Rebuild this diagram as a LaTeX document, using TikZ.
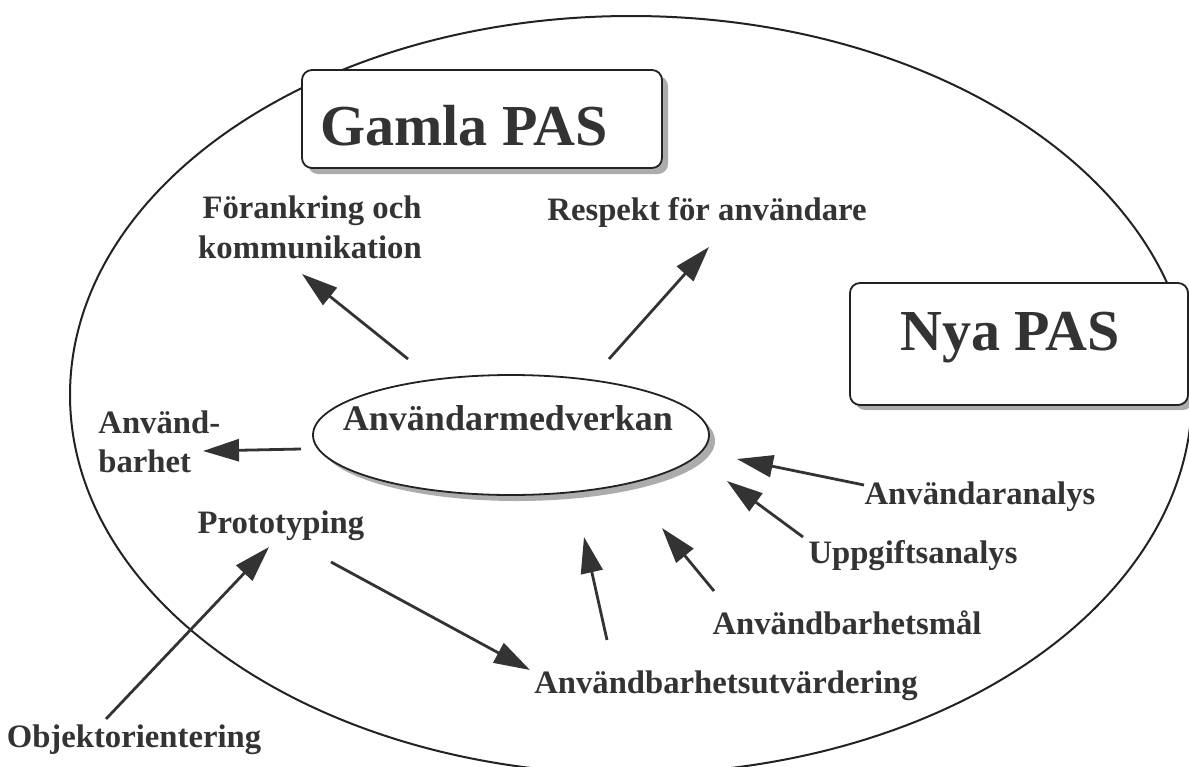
\documentclass[tikz,border=0pt]{standalone}
\usepackage{fontspec}
\setmainfont{Liberation Serif}
\usetikzlibrary{arrows.meta,shapes.geometric}
\definecolor{ink}{HTML}{333333}
\definecolor{edge}{HTML}{222222}
\begin{document}
\begin{tikzpicture}[x=0.5pt,y=-0.5pt,
  lbl/.style={font=\fontsize{16.35}{20}\selectfont\bfseries, text=ink, inner sep=0pt, anchor=base},
  lblw/.style={lbl, anchor=base west},
  title/.style={font=\fontsize{29}{34}\selectfont\bfseries, text=ink, inner sep=0pt, anchor=base},
  midtitle/.style={font=\fontsize{18}{22}\selectfont\bfseries, text=ink, inner sep=0pt, anchor=base},
  arr/.style={draw=ink, line width=1.4pt, -{Triangle[length=18pt,width=11pt]}},
  box/.style={draw=edge, line width=0.9pt, rounded corners=5pt, fill=white, inner sep=0pt},
  boxshadow/.style={fill=gray!65, rounded corners=5pt, inner sep=0pt, draw=none},
]
\useasboundingbox (0,0) rectangle (1189,766);

% outer ellipse
\draw[line width=1pt, edge] (631,395) ellipse [x radius=280.5pt, y radius=189.5pt];

% Gamla PAS box
\node[boxshadow, minimum width=180pt, minimum height=49pt] (gamlashadow) at (488,125) {};
\node[box, minimum width=180pt, minimum height=49pt] (gamlabox) at (482,119) {};
\node[title] (gamla) at (464,145) {Gamla PAS};

% Nya PAS box
\node[boxshadow, minimum width=169pt, minimum height=61pt] (nyashadow) at (1024,349) {};
\node[box, minimum width=169pt, minimum height=61pt] (nyabox) at (1019,344) {};
\node[title] (nya) at (1010,350) {Nya PAS};

% central ellipse
\node[ellipse, fill=gray!65, draw=none, minimum width=198pt, minimum height=60pt, inner sep=0pt] (medvshadow) at (517,441) {};
\node[ellipse, fill=white, draw=edge, line width=0.9pt, minimum width=198pt, minimum height=60pt, inner sep=0pt] (medv) at (511,435) {};
\node[midtitle] (medvtext) at (508,430) {Användarmedverkan};

% labels
\node[lbl] (forank1) at (312,218) {Förankring och};
\node[lbl] (forank2) at (310,258) {kommunikation};
\node[lbl] (respekt) at (707,220) {Respekt för användare};
\node[lblw] (anvb1) at (98,433) {Använd-};
\node[lblw] (anvb2) at (98,472) {barhet};
\node[lbl] (proto) at (281,533) {Prototyping};
\node[lbl] (objekt) at (134,747) {Objektorientering};
\node[lbl] (anvanal) at (980,504) {Användaranalys};
\node[lbl] (uppg) at (913,563) {Uppgiftsanalys};
\node[lbl] (mal) at (847,634) {Användbarhetsmål};
\node[lbl] (utv) at (726,693) {Användbarhetsutvärdering};

% arrow endpoints
\coordinate (a1s) at (408,359); \coordinate (a1e) at (302,274);
\coordinate (a2s) at (609,359); \coordinate (a2e) at (709,247);
\coordinate (a3s) at (301,449); \coordinate (a3e) at (203,451);
\coordinate (a4s) at (864,485); \coordinate (a4e) at (737,459);
\coordinate (a5s) at (803,537); \coordinate (a5e) at (727,481);
\coordinate (a6s) at (714,591); \coordinate (a6e) at (662,528);
\coordinate (a7s) at (607,640); \coordinate (a7e) at (584,537);
\coordinate (a8s) at (331,562); \coordinate (a8e) at (530,670);
\coordinate (a9s) at (106,719); \coordinate (a9e) at (269,547);

\draw[arr] (a1s) -- (a1e);
\draw[arr] (a2s) -- (a2e);
\draw[arr] (a3s) -- (a3e);
\draw[arr] (a4s) -- (a4e);
\draw[arr] (a5s) -- (a5e);
\draw[arr] (a6s) -- (a6e);
\draw[arr] (a7s) -- (a7e);
\draw[arr] (a8s) -- (a8e);
\draw[arr] (a9s) -- (a9e);
\end{tikzpicture}
\end{document}
